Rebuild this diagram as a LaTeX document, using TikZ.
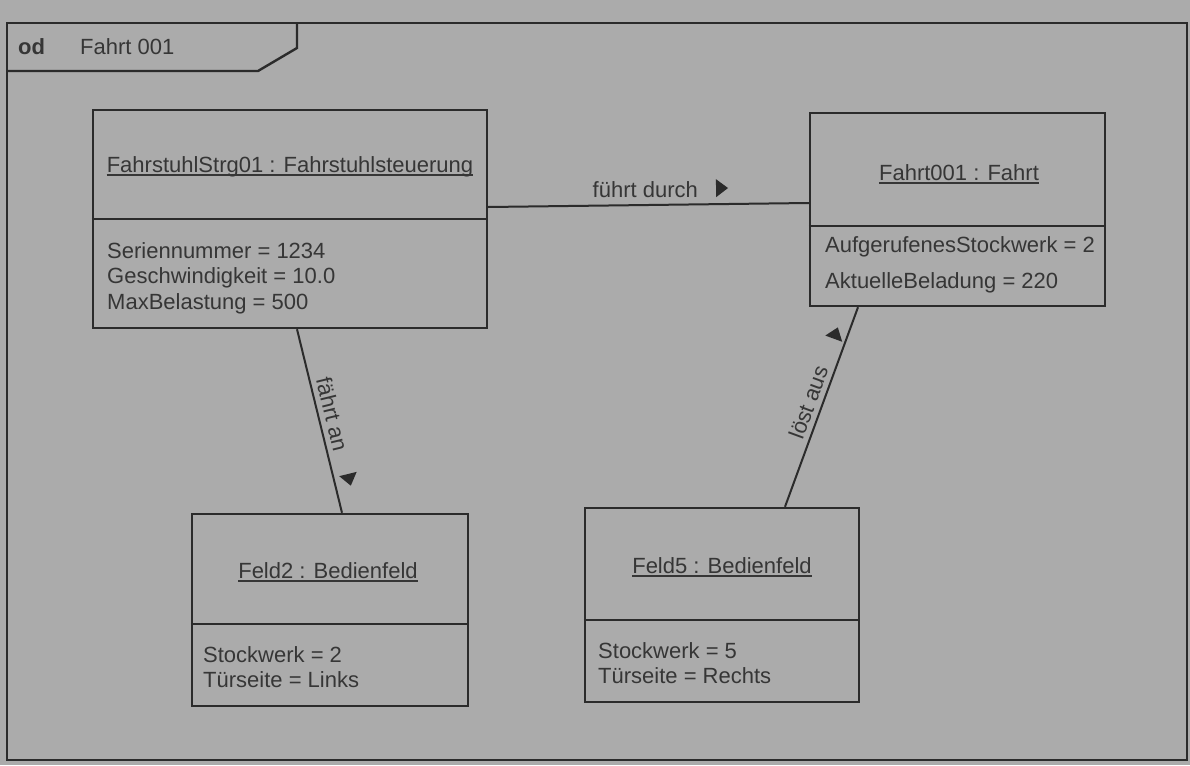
\documentclass[tikz,border=0pt]{standalone}
\usepackage{fontspec}
\setmainfont{Liberation Sans}
\usetikzlibrary{decorations.markings}

\definecolor{paper}{HTML}{ABABAB}
\definecolor{ink}{HTML}{2B2B2B}
\definecolor{txt}{HTML}{363636}

\tikzset{
  objbox/.style={draw=ink, line width=2.4, inner sep=0pt},
  divider/.style={draw=ink, line width=2.2},
  frameline/.style={draw=ink, line width=2.4},
  link/.style={draw=ink, line width=2.0},
  title/.style={text=txt, inner sep=0pt, anchor=base, font=\fontsize{22}{26}\selectfont},
  attr/.style={text=txt, inner sep=0pt, anchor=base west, font=\fontsize{22}{26}\selectfont},
  lbl/.style={text=txt, inner sep=0pt, font=\fontsize{22}{26}\selectfont},
  uline/.style={draw=txt, line width=1.3},
  % filled reading-direction triangle beside a link, at #1 along it, #2 off to its left
  dirmark/.style 2 args={postaction={decorate}, decoration={markings,
    mark=at position #1 with {\fill[ink] (-6,#2-9) -- (6,#2) -- (-6,#2+9) -- cycle;}}}
}

\begin{document}
\begin{tikzpicture}[x=1pt, y=1pt]
  \useasboundingbox (0,0) rectangle (1190,-765);
  \fill[paper] (0,0) rectangle (1190,-765);

  % diagram frame with name tab
  \draw[frameline] (7,-23) rectangle (1187,-760);
  \draw[frameline] (297,-23) -- (297,-48) -- (258,-71) -- (7,-71);
  \node[attr, font=\fontsize{22}{26}\selectfont\bfseries] (kind) at (18,-55) {od};
  \node[attr] (diagname) at (80,-55) {Fahrt 001};

  % object: elevator controller
  \node[objbox, minimum width=394, minimum height=218] (ctrl) at (290,-219) {};
  \draw[divider] (ctrl.west |- 0,-219) -- (ctrl.east |- 0,-219);
  \node[title] (ctrlname) at (290,-172) {FahrstuhlStrg01 : Fahrstuhlsteuerung};
  \draw[uline] ([yshift=-3pt]ctrlname.base west) -- ([yshift=-3pt]ctrlname.base east);
  \node[attr] (ctrla1) at (107,-258) {Seriennummer = 1234};
  \node[attr] (ctrla2) at (107,-283.5) {Geschwindigkeit = 10.0};
  \node[attr] (ctrla3) at (107,-309) {MaxBelastung = 500};

  % object: trip
  \node[objbox, minimum width=295, minimum height=193] (trip) at (957.5,-209.5) {};
  \draw[divider] (trip.west |- 0,-226) -- (trip.east |- 0,-226);
  \node[title] (tripname) at (959,-180) {Fahrt001 : Fahrt};
  \draw[uline] ([yshift=-3pt]tripname.base west) -- ([yshift=-3pt]tripname.base east);
  \node[attr] (tripa1) at (825,-252) {AufgerufenesStockwerk = 2};
  \node[attr] (tripa2) at (825,-288) {AktuelleBeladung = 220};

  % object: control panel 2
  \node[objbox, minimum width=276, minimum height=192] (feld2) at (330,-610) {};
  \draw[divider] (feld2.west |- 0,-624) -- (feld2.east |- 0,-624);
  \node[title] (feld2name) at (328,-578) {Feld2 : Bedienfeld};
  \draw[uline] ([yshift=-3pt]feld2name.base west) -- ([yshift=-3pt]feld2name.base east);
  \node[attr] (feld2a1) at (203,-662) {Stockwerk = 2};
  \node[attr] (feld2a2) at (203,-687) {Türseite = Links};

  % object: control panel 5
  \node[objbox, minimum width=274, minimum height=194] (feld5) at (722,-605) {};
  \draw[divider] (feld5.west |- 0,-620) -- (feld5.east |- 0,-620);
  \node[title] (feld5name) at (722,-573) {Feld5 : Bedienfeld};
  \draw[uline] ([yshift=-3pt]feld5name.base west) -- ([yshift=-3pt]feld5name.base east);
  \node[attr] (feld5a1) at (598,-658) {Stockwerk = 5};
  \node[attr] (feld5a2) at (598,-683) {Türseite = Rechts};

  % links, each with its name and reading-direction triangle
  \draw[link, dirmark={0.73}{16}] (ctrl.east |- 0,-207) --
    node[lbl, pos=0.49, above=6pt] (l1) {führt durch}
    (trip.west |- 0,-203);

  \draw[link, dirmark={0.84}{15}] (ctrl.south -| 297,0) --
    node[lbl, sloped, pos=0.48, above=5pt] (l2) {fährt an}
    (feld2.north -| 342,0);

  \draw[link, dirmark={0.85}{12}] (feld5.north -| 785,0) --
    node[lbl, sloped, pos=0.50, above=5pt] (l3) {löst aus}
    (trip.south -| 858,0);
\end{tikzpicture}
\end{document}
